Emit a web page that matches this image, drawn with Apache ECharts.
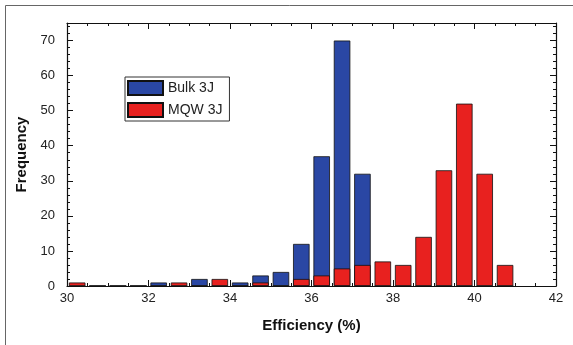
<!DOCTYPE html>
<html>
<head>
<meta charset="utf-8">
<script src="https://cdn.jsdelivr.net/npm/echarts@6/dist/echarts.min.js"></script>
<style>
html,body{margin:0;padding:0;background:#fff;}
#c{width:573px;height:345px;}
</style>
</head>
<body>
<div id="c"></div>
<script>
// bin centers (Efficiency %)
const binCenters = [30.25,30.75,31.25,31.75,32.25,32.75,33.25,33.75,34.25,34.75,35.25,35.75,36.25,36.75,37.25,37.75,38.25,38.75,39.25,39.75,40.25,40.75];
const bulk3J =     [0,    0,    0,    0,    1,    0,    2,    0,    1,    3,    4,    12,   37,   70,   32,   0,    0,    0,    0,    0,    0,    0];
const mqw3J =      [1,    0,    0,    0,    0,    1,    0,    2,    0,    1,    0,    2,    3,    5,    6,    7,    6,    14,   33,   52,   32,   6];
const xTicks = [30,32,34,36,38,40,42];
const yTicks = [0,10,20,30,40,50,60,70];
const seriesNames = ['Bulk 3J','MQW 3J'];

const font = '"Liberation Sans", Arial, sans-serif';
const chart = echarts.init(document.getElementById('c'));
const axisLine = {show:true,onZero:false,lineStyle:{color:'#111',width:1.2}};
const axisTick = {show:true,inside:true,length:6,lineStyle:{color:'#111'}};
const minorX = {show:true,splitNumber:4,length:3,lineStyle:{color:'#111'}};
const minorY = {show:true,splitNumber:5,length:3,lineStyle:{color:'#111'}};
chart.setOption({
  animation:false,
  backgroundColor:'#fff',
  graphic:[{type:'rect',shape:{x:5.5,y:5.5,width:700,height:500},style:{fill:null,stroke:'#666',lineWidth:1},silent:true}],
  grid:{left:67,right:17,top:23,bottom:59},
  legend:{
    left:125,top:77,orient:'vertical',
    itemWidth:35,itemHeight:14,itemGap:6,
    padding:[3,7,3,2],
    borderColor:'#333',borderWidth:1,backgroundColor:'#fff',
    textStyle:{fontFamily:font,fontSize:14,color:'#222'},
    data:[{name:seriesNames[0],icon:'rect'},{name:seriesNames[1],icon:'rect'}]
  },
  xAxis:[
    {type:'value',min:xTicks[0],max:xTicks[xTicks.length-1],interval:2,
      axisLine:axisLine,axisTick:axisTick,splitLine:{show:false},minorTick:minorX,
      axisLabel:{fontFamily:font,fontSize:13,color:'#222',margin:6},
      name:'Efficiency (%)',nameLocation:'middle',nameGap:32,
      nameTextStyle:{fontFamily:font,fontSize:15,fontWeight:'bold',color:'#111'}},
    {type:'value',position:'top',min:xTicks[0],max:xTicks[xTicks.length-1],interval:2,
      axisLine:axisLine,axisTick:axisTick,splitLine:{show:false},minorTick:minorX,
      axisLabel:{show:false}}
  ],
  yAxis:[
    {type:'value',min:0,max:75,interval:10,
      axisLine:axisLine,axisTick:axisTick,splitLine:{show:false},minorTick:minorY,
      axisLabel:{fontFamily:font,fontSize:13,color:'#222',margin:12,showMaxLabel:false},
      name:'Frequency',nameLocation:'middle',nameGap:36,
      nameTextStyle:{fontFamily:font,fontSize:15,fontWeight:'bold',color:'#111'}},
    {type:'value',position:'right',min:0,max:75,interval:10,
      axisLine:axisLine,axisTick:axisTick,splitLine:{show:false},minorTick:minorY,
      axisLabel:{show:false}}
  ],
  series:[
    {name:seriesNames[0],type:'bar',xAxisIndex:0,yAxisIndex:0,barWidth:16.5,barGap:'-100%',
      itemStyle:{color:'#2a47a4',borderColor:'#111',borderWidth:0.8},
      data:binCenters.map((x,i)=>[x,bulk3J[i]])},
    {name:seriesNames[1],type:'bar',xAxisIndex:0,yAxisIndex:0,barWidth:16.5,barGap:'-100%',
      itemStyle:{color:'#e8211f',borderColor:'#111',borderWidth:0.8},
      data:binCenters.map((x,i)=>[x,mqw3J[i]])}
  ]
});
</script>
</body>
</html>
